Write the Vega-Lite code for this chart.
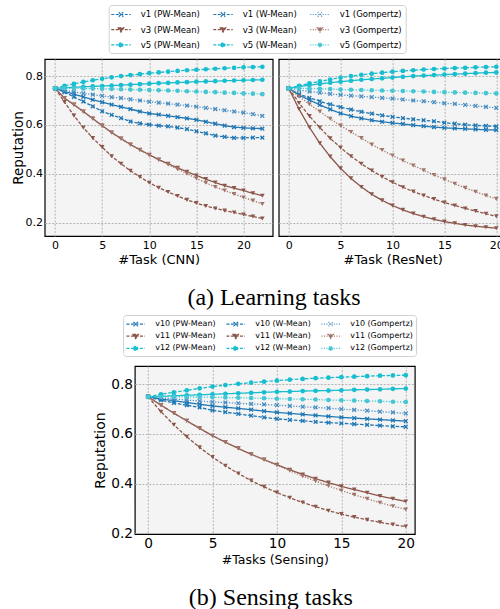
{
"$schema":"https://vega.github.io/schema/vega-lite/v6.json",
"background":"white",
"padding":{"left":10.5,"top":3,"right":0,"bottom":0},
"config":{"font":"DejaVu Sans","view":{"fill":"#f4f4f4","stroke":"#000","strokeWidth":1.2},
"axis":{"labelFont":"DejaVu Sans","titleFont":"DejaVu Sans","labelColor":"#000","titleColor":"#000","titleFontWeight":"normal","ticks":false,"domain":false,"gridColor":"#b4b4b4","gridDash":[2,1.5],"gridWidth":1,"labelFlush":false}},
"datasets":{
"cnn":[
{"s":"v1 (PW-Mean)","t":0,"r":0.750},{"s":"v1 (PW-Mean)","t":1,"r":0.737},{"s":"v1 (PW-Mean)","t":2,"r":0.726},{"s":"v1 (PW-Mean)","t":3,"r":0.715},{"s":"v1 (PW-Mean)","t":4,"r":0.703},{"s":"v1 (PW-Mean)","t":5,"r":0.693},{"s":"v1 (PW-Mean)","t":6,"r":0.683},{"s":"v1 (PW-Mean)","t":7,"r":0.674},{"s":"v1 (PW-Mean)","t":8,"r":0.665},{"s":"v1 (PW-Mean)","t":9,"r":0.655},{"s":"v1 (PW-Mean)","t":10,"r":0.647},{"s":"v1 (PW-Mean)","t":11,"r":0.642},{"s":"v1 (PW-Mean)","t":12,"r":0.637},{"s":"v1 (PW-Mean)","t":13,"r":0.632},{"s":"v1 (PW-Mean)","t":14,"r":0.627},{"s":"v1 (PW-Mean)","t":15,"r":0.621},{"s":"v1 (PW-Mean)","t":16,"r":0.613},{"s":"v1 (PW-Mean)","t":17,"r":0.605},{"s":"v1 (PW-Mean)","t":18,"r":0.597},{"s":"v1 (PW-Mean)","t":19,"r":0.591},{"s":"v1 (PW-Mean)","t":20,"r":0.588},{"s":"v1 (PW-Mean)","t":21,"r":0.586},{"s":"v1 (PW-Mean)","t":22,"r":0.585},
{"s":"v1 (W-Mean)","t":0,"r":0.750},{"s":"v1 (W-Mean)","t":1,"r":0.734},{"s":"v1 (W-Mean)","t":2,"r":0.715},{"s":"v1 (W-Mean)","t":3,"r":0.696},{"s":"v1 (W-Mean)","t":4,"r":0.676},{"s":"v1 (W-Mean)","t":5,"r":0.656},{"s":"v1 (W-Mean)","t":6,"r":0.641},{"s":"v1 (W-Mean)","t":7,"r":0.628},{"s":"v1 (W-Mean)","t":8,"r":0.614},{"s":"v1 (W-Mean)","t":9,"r":0.606},{"s":"v1 (W-Mean)","t":10,"r":0.601},{"s":"v1 (W-Mean)","t":11,"r":0.597},{"s":"v1 (W-Mean)","t":12,"r":0.594},{"s":"v1 (W-Mean)","t":13,"r":0.589},{"s":"v1 (W-Mean)","t":14,"r":0.583},{"s":"v1 (W-Mean)","t":15,"r":0.574},{"s":"v1 (W-Mean)","t":16,"r":0.565},{"s":"v1 (W-Mean)","t":17,"r":0.556},{"s":"v1 (W-Mean)","t":18,"r":0.551},{"s":"v1 (W-Mean)","t":19,"r":0.547},{"s":"v1 (W-Mean)","t":20,"r":0.547},{"s":"v1 (W-Mean)","t":21,"r":0.548},{"s":"v1 (W-Mean)","t":22,"r":0.548},
{"s":"v1 (Gompertz)","t":0,"r":0.750},{"s":"v1 (Gompertz)","t":1,"r":0.742},{"s":"v1 (Gompertz)","t":2,"r":0.735},{"s":"v1 (Gompertz)","t":3,"r":0.729},{"s":"v1 (Gompertz)","t":4,"r":0.724},{"s":"v1 (Gompertz)","t":5,"r":0.719},{"s":"v1 (Gompertz)","t":6,"r":0.714},{"s":"v1 (Gompertz)","t":7,"r":0.710},{"s":"v1 (Gompertz)","t":8,"r":0.705},{"s":"v1 (Gompertz)","t":9,"r":0.700},{"s":"v1 (Gompertz)","t":10,"r":0.695},{"s":"v1 (Gompertz)","t":11,"r":0.691},{"s":"v1 (Gompertz)","t":12,"r":0.687},{"s":"v1 (Gompertz)","t":13,"r":0.683},{"s":"v1 (Gompertz)","t":14,"r":0.679},{"s":"v1 (Gompertz)","t":15,"r":0.675},{"s":"v1 (Gompertz)","t":16,"r":0.670},{"s":"v1 (Gompertz)","t":17,"r":0.665},{"s":"v1 (Gompertz)","t":18,"r":0.660},{"s":"v1 (Gompertz)","t":19,"r":0.655},{"s":"v1 (Gompertz)","t":20,"r":0.650},{"s":"v1 (Gompertz)","t":21,"r":0.644},{"s":"v1 (Gompertz)","t":22,"r":0.637},
{"s":"v3 (PW-Mean)","t":0,"r":0.750},{"s":"v3 (PW-Mean)","t":1,"r":0.710},{"s":"v3 (PW-Mean)","t":2,"r":0.683},{"s":"v3 (PW-Mean)","t":3,"r":0.655},{"s":"v3 (PW-Mean)","t":4,"r":0.626},{"s":"v3 (PW-Mean)","t":5,"r":0.597},{"s":"v3 (PW-Mean)","t":6,"r":0.569},{"s":"v3 (PW-Mean)","t":7,"r":0.544},{"s":"v3 (PW-Mean)","t":8,"r":0.520},{"s":"v3 (PW-Mean)","t":9,"r":0.498},{"s":"v3 (PW-Mean)","t":10,"r":0.478},{"s":"v3 (PW-Mean)","t":11,"r":0.458},{"s":"v3 (PW-Mean)","t":12,"r":0.441},{"s":"v3 (PW-Mean)","t":13,"r":0.424},{"s":"v3 (PW-Mean)","t":14,"r":0.408},{"s":"v3 (PW-Mean)","t":15,"r":0.393},{"s":"v3 (PW-Mean)","t":16,"r":0.378},{"s":"v3 (PW-Mean)","t":17,"r":0.364},{"s":"v3 (PW-Mean)","t":18,"r":0.351},{"s":"v3 (PW-Mean)","t":19,"r":0.341},{"s":"v3 (PW-Mean)","t":20,"r":0.331},{"s":"v3 (PW-Mean)","t":21,"r":0.320},{"s":"v3 (PW-Mean)","t":22,"r":0.310},
{"s":"v3 (W-Mean)","t":0,"r":0.750},{"s":"v3 (W-Mean)","t":1,"r":0.694},{"s":"v3 (W-Mean)","t":2,"r":0.638},{"s":"v3 (W-Mean)","t":3,"r":0.589},{"s":"v3 (W-Mean)","t":4,"r":0.546},{"s":"v3 (W-Mean)","t":5,"r":0.509},{"s":"v3 (W-Mean)","t":6,"r":0.472},{"s":"v3 (W-Mean)","t":7,"r":0.441},{"s":"v3 (W-Mean)","t":8,"r":0.412},{"s":"v3 (W-Mean)","t":9,"r":0.387},{"s":"v3 (W-Mean)","t":10,"r":0.363},{"s":"v3 (W-Mean)","t":11,"r":0.343},{"s":"v3 (W-Mean)","t":12,"r":0.325},{"s":"v3 (W-Mean)","t":13,"r":0.309},{"s":"v3 (W-Mean)","t":14,"r":0.293},{"s":"v3 (W-Mean)","t":15,"r":0.280},{"s":"v3 (W-Mean)","t":16,"r":0.268},{"s":"v3 (W-Mean)","t":17,"r":0.258},{"s":"v3 (W-Mean)","t":18,"r":0.249},{"s":"v3 (W-Mean)","t":19,"r":0.241},{"s":"v3 (W-Mean)","t":20,"r":0.233},{"s":"v3 (W-Mean)","t":21,"r":0.225},{"s":"v3 (W-Mean)","t":22,"r":0.217},
{"s":"v3 (Gompertz)","t":0,"r":0.750},{"s":"v3 (Gompertz)","t":1,"r":0.710},{"s":"v3 (Gompertz)","t":2,"r":0.682},{"s":"v3 (Gompertz)","t":3,"r":0.654},{"s":"v3 (Gompertz)","t":4,"r":0.625},{"s":"v3 (Gompertz)","t":5,"r":0.596},{"s":"v3 (Gompertz)","t":6,"r":0.568},{"s":"v3 (Gompertz)","t":7,"r":0.543},{"s":"v3 (Gompertz)","t":8,"r":0.519},{"s":"v3 (Gompertz)","t":9,"r":0.497},{"s":"v3 (Gompertz)","t":10,"r":0.476},{"s":"v3 (Gompertz)","t":11,"r":0.456},{"s":"v3 (Gompertz)","t":12,"r":0.438},{"s":"v3 (Gompertz)","t":13,"r":0.419},{"s":"v3 (Gompertz)","t":14,"r":0.400},{"s":"v3 (Gompertz)","t":15,"r":0.381},{"s":"v3 (Gompertz)","t":16,"r":0.363},{"s":"v3 (Gompertz)","t":17,"r":0.346},{"s":"v3 (Gompertz)","t":18,"r":0.331},{"s":"v3 (Gompertz)","t":19,"r":0.317},{"s":"v3 (Gompertz)","t":20,"r":0.303},{"s":"v3 (Gompertz)","t":21,"r":0.290},{"s":"v3 (Gompertz)","t":22,"r":0.276},
{"s":"v5 (PW-Mean)","t":0,"r":0.750},{"s":"v5 (PW-Mean)","t":1,"r":0.752},{"s":"v5 (PW-Mean)","t":2,"r":0.754},{"s":"v5 (PW-Mean)","t":3,"r":0.756},{"s":"v5 (PW-Mean)","t":4,"r":0.758},{"s":"v5 (PW-Mean)","t":5,"r":0.759},{"s":"v5 (PW-Mean)","t":6,"r":0.761},{"s":"v5 (PW-Mean)","t":7,"r":0.763},{"s":"v5 (PW-Mean)","t":8,"r":0.765},{"s":"v5 (PW-Mean)","t":9,"r":0.767},{"s":"v5 (PW-Mean)","t":10,"r":0.769},{"s":"v5 (PW-Mean)","t":11,"r":0.771},{"s":"v5 (PW-Mean)","t":12,"r":0.772},{"s":"v5 (PW-Mean)","t":13,"r":0.774},{"s":"v5 (PW-Mean)","t":14,"r":0.775},{"s":"v5 (PW-Mean)","t":15,"r":0.777},{"s":"v5 (PW-Mean)","t":16,"r":0.778},{"s":"v5 (PW-Mean)","t":17,"r":0.779},{"s":"v5 (PW-Mean)","t":18,"r":0.781},{"s":"v5 (PW-Mean)","t":19,"r":0.782},{"s":"v5 (PW-Mean)","t":20,"r":0.783},{"s":"v5 (PW-Mean)","t":21,"r":0.784},{"s":"v5 (PW-Mean)","t":22,"r":0.785},
{"s":"v5 (W-Mean)","t":0,"r":0.750},{"s":"v5 (W-Mean)","t":1,"r":0.760},{"s":"v5 (W-Mean)","t":2,"r":0.768},{"s":"v5 (W-Mean)","t":3,"r":0.776},{"s":"v5 (W-Mean)","t":4,"r":0.783},{"s":"v5 (W-Mean)","t":5,"r":0.789},{"s":"v5 (W-Mean)","t":6,"r":0.795},{"s":"v5 (W-Mean)","t":7,"r":0.800},{"s":"v5 (W-Mean)","t":8,"r":0.804},{"s":"v5 (W-Mean)","t":9,"r":0.808},{"s":"v5 (W-Mean)","t":10,"r":0.812},{"s":"v5 (W-Mean)","t":11,"r":0.815},{"s":"v5 (W-Mean)","t":12,"r":0.818},{"s":"v5 (W-Mean)","t":13,"r":0.821},{"s":"v5 (W-Mean)","t":14,"r":0.824},{"s":"v5 (W-Mean)","t":15,"r":0.826},{"s":"v5 (W-Mean)","t":16,"r":0.828},{"s":"v5 (W-Mean)","t":17,"r":0.830},{"s":"v5 (W-Mean)","t":18,"r":0.832},{"s":"v5 (W-Mean)","t":19,"r":0.834},{"s":"v5 (W-Mean)","t":20,"r":0.836},{"s":"v5 (W-Mean)","t":21,"r":0.837},{"s":"v5 (W-Mean)","t":22,"r":0.838},
{"s":"v5 (Gompertz)","t":0,"r":0.750},{"s":"v5 (Gompertz)","t":1,"r":0.750},{"s":"v5 (Gompertz)","t":2,"r":0.750},{"s":"v5 (Gompertz)","t":3,"r":0.749},{"s":"v5 (Gompertz)","t":4,"r":0.749},{"s":"v5 (Gompertz)","t":5,"r":0.748},{"s":"v5 (Gompertz)","t":6,"r":0.747},{"s":"v5 (Gompertz)","t":7,"r":0.746},{"s":"v5 (Gompertz)","t":8,"r":0.745},{"s":"v5 (Gompertz)","t":9,"r":0.744},{"s":"v5 (Gompertz)","t":10,"r":0.743},{"s":"v5 (Gompertz)","t":11,"r":0.742},{"s":"v5 (Gompertz)","t":12,"r":0.741},{"s":"v5 (Gompertz)","t":13,"r":0.740},{"s":"v5 (Gompertz)","t":14,"r":0.738},{"s":"v5 (Gompertz)","t":15,"r":0.737},{"s":"v5 (Gompertz)","t":16,"r":0.735},{"s":"v5 (Gompertz)","t":17,"r":0.734},{"s":"v5 (Gompertz)","t":18,"r":0.732},{"s":"v5 (Gompertz)","t":19,"r":0.731},{"s":"v5 (Gompertz)","t":20,"r":0.729},{"s":"v5 (Gompertz)","t":21,"r":0.728},{"s":"v5 (Gompertz)","t":22,"r":0.726}
],
"resnet":[
{"s":"v1 (PW-Mean)","t":0,"r":0.750},{"s":"v1 (PW-Mean)","t":1,"r":0.722},{"s":"v1 (PW-Mean)","t":2,"r":0.702},{"s":"v1 (PW-Mean)","t":3,"r":0.682},{"s":"v1 (PW-Mean)","t":4,"r":0.664},{"s":"v1 (PW-Mean)","t":5,"r":0.647},{"s":"v1 (PW-Mean)","t":6,"r":0.636},{"s":"v1 (PW-Mean)","t":7,"r":0.627},{"s":"v1 (PW-Mean)","t":8,"r":0.619},{"s":"v1 (PW-Mean)","t":9,"r":0.613},{"s":"v1 (PW-Mean)","t":10,"r":0.608},{"s":"v1 (PW-Mean)","t":11,"r":0.604},{"s":"v1 (PW-Mean)","t":12,"r":0.599},{"s":"v1 (PW-Mean)","t":13,"r":0.595},{"s":"v1 (PW-Mean)","t":14,"r":0.591},{"s":"v1 (PW-Mean)","t":15,"r":0.588},{"s":"v1 (PW-Mean)","t":16,"r":0.586},{"s":"v1 (PW-Mean)","t":17,"r":0.584},{"s":"v1 (PW-Mean)","t":18,"r":0.582},{"s":"v1 (PW-Mean)","t":19,"r":0.580},{"s":"v1 (PW-Mean)","t":20,"r":0.579},
{"s":"v1 (W-Mean)","t":0,"r":0.750},{"s":"v1 (W-Mean)","t":1,"r":0.726},{"s":"v1 (W-Mean)","t":2,"r":0.711},{"s":"v1 (W-Mean)","t":3,"r":0.697},{"s":"v1 (W-Mean)","t":4,"r":0.684},{"s":"v1 (W-Mean)","t":5,"r":0.673},{"s":"v1 (W-Mean)","t":6,"r":0.663},{"s":"v1 (W-Mean)","t":7,"r":0.654},{"s":"v1 (W-Mean)","t":8,"r":0.646},{"s":"v1 (W-Mean)","t":9,"r":0.639},{"s":"v1 (W-Mean)","t":10,"r":0.633},{"s":"v1 (W-Mean)","t":11,"r":0.628},{"s":"v1 (W-Mean)","t":12,"r":0.623},{"s":"v1 (W-Mean)","t":13,"r":0.619},{"s":"v1 (W-Mean)","t":14,"r":0.615},{"s":"v1 (W-Mean)","t":15,"r":0.609},{"s":"v1 (W-Mean)","t":16,"r":0.605},{"s":"v1 (W-Mean)","t":17,"r":0.601},{"s":"v1 (W-Mean)","t":18,"r":0.598},{"s":"v1 (W-Mean)","t":19,"r":0.596},{"s":"v1 (W-Mean)","t":20,"r":0.594},
{"s":"v1 (Gompertz)","t":0,"r":0.750},{"s":"v1 (Gompertz)","t":1,"r":0.743},{"s":"v1 (Gompertz)","t":2,"r":0.737},{"s":"v1 (Gompertz)","t":3,"r":0.732},{"s":"v1 (Gompertz)","t":4,"r":0.727},{"s":"v1 (Gompertz)","t":5,"r":0.723},{"s":"v1 (Gompertz)","t":6,"r":0.720},{"s":"v1 (Gompertz)","t":7,"r":0.717},{"s":"v1 (Gompertz)","t":8,"r":0.714},{"s":"v1 (Gompertz)","t":9,"r":0.711},{"s":"v1 (Gompertz)","t":10,"r":0.708},{"s":"v1 (Gompertz)","t":11,"r":0.704},{"s":"v1 (Gompertz)","t":12,"r":0.700},{"s":"v1 (Gompertz)","t":13,"r":0.697},{"s":"v1 (Gompertz)","t":14,"r":0.693},{"s":"v1 (Gompertz)","t":15,"r":0.689},{"s":"v1 (Gompertz)","t":16,"r":0.686},{"s":"v1 (Gompertz)","t":17,"r":0.682},{"s":"v1 (Gompertz)","t":18,"r":0.678},{"s":"v1 (Gompertz)","t":19,"r":0.674},{"s":"v1 (Gompertz)","t":20,"r":0.670},
{"s":"v3 (PW-Mean)","t":0,"r":0.750},{"s":"v3 (PW-Mean)","t":1,"r":0.665},{"s":"v3 (PW-Mean)","t":2,"r":0.590},{"s":"v3 (PW-Mean)","t":3,"r":0.525},{"s":"v3 (PW-Mean)","t":4,"r":0.470},{"s":"v3 (PW-Mean)","t":5,"r":0.422},{"s":"v3 (PW-Mean)","t":6,"r":0.381},{"s":"v3 (PW-Mean)","t":7,"r":0.346},{"s":"v3 (PW-Mean)","t":8,"r":0.316},{"s":"v3 (PW-Mean)","t":9,"r":0.291},{"s":"v3 (PW-Mean)","t":10,"r":0.270},{"s":"v3 (PW-Mean)","t":11,"r":0.252},{"s":"v3 (PW-Mean)","t":12,"r":0.237},{"s":"v3 (PW-Mean)","t":13,"r":0.224},{"s":"v3 (PW-Mean)","t":14,"r":0.213},{"s":"v3 (PW-Mean)","t":15,"r":0.204},{"s":"v3 (PW-Mean)","t":16,"r":0.197},{"s":"v3 (PW-Mean)","t":17,"r":0.190},{"s":"v3 (PW-Mean)","t":18,"r":0.185},{"s":"v3 (PW-Mean)","t":19,"r":0.181},{"s":"v3 (PW-Mean)","t":20,"r":0.177},
{"s":"v3 (W-Mean)","t":0,"r":0.750},{"s":"v3 (W-Mean)","t":1,"r":0.690},{"s":"v3 (W-Mean)","t":2,"r":0.636},{"s":"v3 (W-Mean)","t":3,"r":0.589},{"s":"v3 (W-Mean)","t":4,"r":0.545},{"s":"v3 (W-Mean)","t":5,"r":0.507},{"s":"v3 (W-Mean)","t":6,"r":0.472},{"s":"v3 (W-Mean)","t":7,"r":0.441},{"s":"v3 (W-Mean)","t":8,"r":0.413},{"s":"v3 (W-Mean)","t":9,"r":0.388},{"s":"v3 (W-Mean)","t":10,"r":0.365},{"s":"v3 (W-Mean)","t":11,"r":0.345},{"s":"v3 (W-Mean)","t":12,"r":0.327},{"s":"v3 (W-Mean)","t":13,"r":0.311},{"s":"v3 (W-Mean)","t":14,"r":0.296},{"s":"v3 (W-Mean)","t":15,"r":0.282},{"s":"v3 (W-Mean)","t":16,"r":0.270},{"s":"v3 (W-Mean)","t":17,"r":0.258},{"s":"v3 (W-Mean)","t":18,"r":0.247},{"s":"v3 (W-Mean)","t":19,"r":0.236},{"s":"v3 (W-Mean)","t":20,"r":0.226},
{"s":"v3 (Gompertz)","t":0,"r":0.750},{"s":"v3 (Gompertz)","t":1,"r":0.716},{"s":"v3 (Gompertz)","t":2,"r":0.685},{"s":"v3 (Gompertz)","t":3,"r":0.655},{"s":"v3 (Gompertz)","t":4,"r":0.625},{"s":"v3 (Gompertz)","t":5,"r":0.597},{"s":"v3 (Gompertz)","t":6,"r":0.571},{"s":"v3 (Gompertz)","t":7,"r":0.546},{"s":"v3 (Gompertz)","t":8,"r":0.520},{"s":"v3 (Gompertz)","t":9,"r":0.497},{"s":"v3 (Gompertz)","t":10,"r":0.475},{"s":"v3 (Gompertz)","t":11,"r":0.454},{"s":"v3 (Gompertz)","t":12,"r":0.434},{"s":"v3 (Gompertz)","t":13,"r":0.414},{"s":"v3 (Gompertz)","t":14,"r":0.395},{"s":"v3 (Gompertz)","t":15,"r":0.377},{"s":"v3 (Gompertz)","t":16,"r":0.359},{"s":"v3 (Gompertz)","t":17,"r":0.342},{"s":"v3 (Gompertz)","t":18,"r":0.326},{"s":"v3 (Gompertz)","t":19,"r":0.311},{"s":"v3 (Gompertz)","t":20,"r":0.297},
{"s":"v5 (PW-Mean)","t":0,"r":0.750},{"s":"v5 (PW-Mean)","t":1,"r":0.757},{"s":"v5 (PW-Mean)","t":2,"r":0.763},{"s":"v5 (PW-Mean)","t":3,"r":0.768},{"s":"v5 (PW-Mean)","t":4,"r":0.773},{"s":"v5 (PW-Mean)","t":5,"r":0.777},{"s":"v5 (PW-Mean)","t":6,"r":0.781},{"s":"v5 (PW-Mean)","t":7,"r":0.785},{"s":"v5 (PW-Mean)","t":8,"r":0.788},{"s":"v5 (PW-Mean)","t":9,"r":0.791},{"s":"v5 (PW-Mean)","t":10,"r":0.794},{"s":"v5 (PW-Mean)","t":11,"r":0.797},{"s":"v5 (PW-Mean)","t":12,"r":0.800},{"s":"v5 (PW-Mean)","t":13,"r":0.802},{"s":"v5 (PW-Mean)","t":14,"r":0.804},{"s":"v5 (PW-Mean)","t":15,"r":0.806},{"s":"v5 (PW-Mean)","t":16,"r":0.808},{"s":"v5 (PW-Mean)","t":17,"r":0.810},{"s":"v5 (PW-Mean)","t":18,"r":0.812},{"s":"v5 (PW-Mean)","t":19,"r":0.814},{"s":"v5 (PW-Mean)","t":20,"r":0.815},
{"s":"v5 (W-Mean)","t":0,"r":0.750},{"s":"v5 (W-Mean)","t":1,"r":0.760},{"s":"v5 (W-Mean)","t":2,"r":0.770},{"s":"v5 (W-Mean)","t":3,"r":0.778},{"s":"v5 (W-Mean)","t":4,"r":0.786},{"s":"v5 (W-Mean)","t":5,"r":0.794},{"s":"v5 (W-Mean)","t":6,"r":0.800},{"s":"v5 (W-Mean)","t":7,"r":0.805},{"s":"v5 (W-Mean)","t":8,"r":0.810},{"s":"v5 (W-Mean)","t":9,"r":0.814},{"s":"v5 (W-Mean)","t":10,"r":0.818},{"s":"v5 (W-Mean)","t":11,"r":0.821},{"s":"v5 (W-Mean)","t":12,"r":0.824},{"s":"v5 (W-Mean)","t":13,"r":0.827},{"s":"v5 (W-Mean)","t":14,"r":0.829},{"s":"v5 (W-Mean)","t":15,"r":0.831},{"s":"v5 (W-Mean)","t":16,"r":0.833},{"s":"v5 (W-Mean)","t":17,"r":0.834},{"s":"v5 (W-Mean)","t":18,"r":0.836},{"s":"v5 (W-Mean)","t":19,"r":0.837},{"s":"v5 (W-Mean)","t":20,"r":0.838},
{"s":"v5 (Gompertz)","t":0,"r":0.750},{"s":"v5 (Gompertz)","t":1,"r":0.750},{"s":"v5 (Gompertz)","t":2,"r":0.749},{"s":"v5 (Gompertz)","t":3,"r":0.748},{"s":"v5 (Gompertz)","t":4,"r":0.747},{"s":"v5 (Gompertz)","t":5,"r":0.745},{"s":"v5 (Gompertz)","t":6,"r":0.744},{"s":"v5 (Gompertz)","t":7,"r":0.743},{"s":"v5 (Gompertz)","t":8,"r":0.742},{"s":"v5 (Gompertz)","t":9,"r":0.741},{"s":"v5 (Gompertz)","t":10,"r":0.740},{"s":"v5 (Gompertz)","t":11,"r":0.739},{"s":"v5 (Gompertz)","t":12,"r":0.738},{"s":"v5 (Gompertz)","t":13,"r":0.737},{"s":"v5 (Gompertz)","t":14,"r":0.735},{"s":"v5 (Gompertz)","t":15,"r":0.734},{"s":"v5 (Gompertz)","t":16,"r":0.733},{"s":"v5 (Gompertz)","t":17,"r":0.732},{"s":"v5 (Gompertz)","t":18,"r":0.731},{"s":"v5 (Gompertz)","t":19,"r":0.730},{"s":"v5 (Gompertz)","t":20,"r":0.729}
],
"sensing":[
{"s":"v10 (PW-Mean)","t":0,"r":0.750},{"s":"v10 (PW-Mean)","t":1,"r":0.741},{"s":"v10 (PW-Mean)","t":2,"r":0.734},{"s":"v10 (PW-Mean)","t":3,"r":0.727},{"s":"v10 (PW-Mean)","t":4,"r":0.720},{"s":"v10 (PW-Mean)","t":5,"r":0.713},{"s":"v10 (PW-Mean)","t":6,"r":0.708},{"s":"v10 (PW-Mean)","t":7,"r":0.703},{"s":"v10 (PW-Mean)","t":8,"r":0.698},{"s":"v10 (PW-Mean)","t":9,"r":0.692},{"s":"v10 (PW-Mean)","t":10,"r":0.687},{"s":"v10 (PW-Mean)","t":11,"r":0.683},{"s":"v10 (PW-Mean)","t":12,"r":0.679},{"s":"v10 (PW-Mean)","t":13,"r":0.675},{"s":"v10 (PW-Mean)","t":14,"r":0.671},{"s":"v10 (PW-Mean)","t":15,"r":0.667},{"s":"v10 (PW-Mean)","t":16,"r":0.664},{"s":"v10 (PW-Mean)","t":17,"r":0.661},{"s":"v10 (PW-Mean)","t":18,"r":0.658},{"s":"v10 (PW-Mean)","t":19,"r":0.655},{"s":"v10 (PW-Mean)","t":20,"r":0.652},
{"s":"v10 (W-Mean)","t":0,"r":0.750},{"s":"v10 (W-Mean)","t":1,"r":0.736},{"s":"v10 (W-Mean)","t":2,"r":0.725},{"s":"v10 (W-Mean)","t":3,"r":0.716},{"s":"v10 (W-Mean)","t":4,"r":0.707},{"s":"v10 (W-Mean)","t":5,"r":0.695},{"s":"v10 (W-Mean)","t":6,"r":0.688},{"s":"v10 (W-Mean)","t":7,"r":0.681},{"s":"v10 (W-Mean)","t":8,"r":0.674},{"s":"v10 (W-Mean)","t":9,"r":0.667},{"s":"v10 (W-Mean)","t":10,"r":0.661},{"s":"v10 (W-Mean)","t":11,"r":0.657},{"s":"v10 (W-Mean)","t":12,"r":0.653},{"s":"v10 (W-Mean)","t":13,"r":0.649},{"s":"v10 (W-Mean)","t":14,"r":0.646},{"s":"v10 (W-Mean)","t":15,"r":0.643},{"s":"v10 (W-Mean)","t":16,"r":0.640},{"s":"v10 (W-Mean)","t":17,"r":0.637},{"s":"v10 (W-Mean)","t":18,"r":0.634},{"s":"v10 (W-Mean)","t":19,"r":0.631},{"s":"v10 (W-Mean)","t":20,"r":0.629},
{"s":"v10 (Gompertz)","t":0,"r":0.750},{"s":"v10 (Gompertz)","t":1,"r":0.745},{"s":"v10 (Gompertz)","t":2,"r":0.741},{"s":"v10 (Gompertz)","t":3,"r":0.737},{"s":"v10 (Gompertz)","t":4,"r":0.733},{"s":"v10 (Gompertz)","t":5,"r":0.729},{"s":"v10 (Gompertz)","t":6,"r":0.727},{"s":"v10 (Gompertz)","t":7,"r":0.724},{"s":"v10 (Gompertz)","t":8,"r":0.721},{"s":"v10 (Gompertz)","t":9,"r":0.719},{"s":"v10 (Gompertz)","t":10,"r":0.716},{"s":"v10 (Gompertz)","t":11,"r":0.713},{"s":"v10 (Gompertz)","t":12,"r":0.710},{"s":"v10 (Gompertz)","t":13,"r":0.707},{"s":"v10 (Gompertz)","t":14,"r":0.704},{"s":"v10 (Gompertz)","t":15,"r":0.700},{"s":"v10 (Gompertz)","t":16,"r":0.697},{"s":"v10 (Gompertz)","t":17,"r":0.694},{"s":"v10 (Gompertz)","t":18,"r":0.690},{"s":"v10 (Gompertz)","t":19,"r":0.687},{"s":"v10 (Gompertz)","t":20,"r":0.683},
{"s":"v11 (PW-Mean)","t":0,"r":0.750},{"s":"v11 (PW-Mean)","t":1,"r":0.716},{"s":"v11 (PW-Mean)","t":2,"r":0.684},{"s":"v11 (PW-Mean)","t":3,"r":0.653},{"s":"v11 (PW-Mean)","t":4,"r":0.623},{"s":"v11 (PW-Mean)","t":5,"r":0.593},{"s":"v11 (PW-Mean)","t":6,"r":0.567},{"s":"v11 (PW-Mean)","t":7,"r":0.542},{"s":"v11 (PW-Mean)","t":8,"r":0.518},{"s":"v11 (PW-Mean)","t":9,"r":0.497},{"s":"v11 (PW-Mean)","t":10,"r":0.476},{"s":"v11 (PW-Mean)","t":11,"r":0.456},{"s":"v11 (PW-Mean)","t":12,"r":0.437},{"s":"v11 (PW-Mean)","t":13,"r":0.420},{"s":"v11 (PW-Mean)","t":14,"r":0.404},{"s":"v11 (PW-Mean)","t":15,"r":0.389},{"s":"v11 (PW-Mean)","t":16,"r":0.376},{"s":"v11 (PW-Mean)","t":17,"r":0.363},{"s":"v11 (PW-Mean)","t":18,"r":0.350},{"s":"v11 (PW-Mean)","t":19,"r":0.339},{"s":"v11 (PW-Mean)","t":20,"r":0.328},
{"s":"v11 (W-Mean)","t":0,"r":0.750},{"s":"v11 (W-Mean)","t":1,"r":0.690},{"s":"v11 (W-Mean)","t":2,"r":0.637},{"s":"v11 (W-Mean)","t":3,"r":0.589},{"s":"v11 (W-Mean)","t":4,"r":0.546},{"s":"v11 (W-Mean)","t":5,"r":0.507},{"s":"v11 (W-Mean)","t":6,"r":0.472},{"s":"v11 (W-Mean)","t":7,"r":0.441},{"s":"v11 (W-Mean)","t":8,"r":0.412},{"s":"v11 (W-Mean)","t":9,"r":0.387},{"s":"v11 (W-Mean)","t":10,"r":0.364},{"s":"v11 (W-Mean)","t":11,"r":0.343},{"s":"v11 (W-Mean)","t":12,"r":0.324},{"s":"v11 (W-Mean)","t":13,"r":0.307},{"s":"v11 (W-Mean)","t":14,"r":0.291},{"s":"v11 (W-Mean)","t":15,"r":0.277},{"s":"v11 (W-Mean)","t":16,"r":0.265},{"s":"v11 (W-Mean)","t":17,"r":0.254},{"s":"v11 (W-Mean)","t":18,"r":0.244},{"s":"v11 (W-Mean)","t":19,"r":0.235},{"s":"v11 (W-Mean)","t":20,"r":0.227},
{"s":"v11 (Gompertz)","t":0,"r":0.750},{"s":"v11 (Gompertz)","t":1,"r":0.716},{"s":"v11 (Gompertz)","t":2,"r":0.684},{"s":"v11 (Gompertz)","t":3,"r":0.653},{"s":"v11 (Gompertz)","t":4,"r":0.623},{"s":"v11 (Gompertz)","t":5,"r":0.593},{"s":"v11 (Gompertz)","t":6,"r":0.567},{"s":"v11 (Gompertz)","t":7,"r":0.542},{"s":"v11 (Gompertz)","t":8,"r":0.518},{"s":"v11 (Gompertz)","t":9,"r":0.496},{"s":"v11 (Gompertz)","t":10,"r":0.474},{"s":"v11 (Gompertz)","t":11,"r":0.452},{"s":"v11 (Gompertz)","t":12,"r":0.430},{"s":"v11 (Gompertz)","t":13,"r":0.410},{"s":"v11 (Gompertz)","t":14,"r":0.391},{"s":"v11 (Gompertz)","t":15,"r":0.372},{"s":"v11 (Gompertz)","t":16,"r":0.355},{"s":"v11 (Gompertz)","t":17,"r":0.339},{"s":"v11 (Gompertz)","t":18,"r":0.323},{"s":"v11 (Gompertz)","t":19,"r":0.309},{"s":"v11 (Gompertz)","t":20,"r":0.296},
{"s":"v12 (PW-Mean)","t":0,"r":0.750},{"s":"v12 (PW-Mean)","t":1,"r":0.752},{"s":"v12 (PW-Mean)","t":2,"r":0.754},{"s":"v12 (PW-Mean)","t":3,"r":0.756},{"s":"v12 (PW-Mean)","t":4,"r":0.758},{"s":"v12 (PW-Mean)","t":5,"r":0.760},{"s":"v12 (PW-Mean)","t":6,"r":0.762},{"s":"v12 (PW-Mean)","t":7,"r":0.764},{"s":"v12 (PW-Mean)","t":8,"r":0.766},{"s":"v12 (PW-Mean)","t":9,"r":0.768},{"s":"v12 (PW-Mean)","t":10,"r":0.770},{"s":"v12 (PW-Mean)","t":11,"r":0.771},{"s":"v12 (PW-Mean)","t":12,"r":0.773},{"s":"v12 (PW-Mean)","t":13,"r":0.774},{"s":"v12 (PW-Mean)","t":14,"r":0.775},{"s":"v12 (PW-Mean)","t":15,"r":0.776},{"s":"v12 (PW-Mean)","t":16,"r":0.778},{"s":"v12 (PW-Mean)","t":17,"r":0.779},{"s":"v12 (PW-Mean)","t":18,"r":0.780},{"s":"v12 (PW-Mean)","t":19,"r":0.782},{"s":"v12 (PW-Mean)","t":20,"r":0.783},
{"s":"v12 (W-Mean)","t":0,"r":0.750},{"s":"v12 (W-Mean)","t":1,"r":0.760},{"s":"v12 (W-Mean)","t":2,"r":0.768},{"s":"v12 (W-Mean)","t":3,"r":0.776},{"s":"v12 (W-Mean)","t":4,"r":0.784},{"s":"v12 (W-Mean)","t":5,"r":0.791},{"s":"v12 (W-Mean)","t":6,"r":0.797},{"s":"v12 (W-Mean)","t":7,"r":0.802},{"s":"v12 (W-Mean)","t":8,"r":0.807},{"s":"v12 (W-Mean)","t":9,"r":0.811},{"s":"v12 (W-Mean)","t":10,"r":0.815},{"s":"v12 (W-Mean)","t":11,"r":0.819},{"s":"v12 (W-Mean)","t":12,"r":0.822},{"s":"v12 (W-Mean)","t":13,"r":0.825},{"s":"v12 (W-Mean)","t":14,"r":0.827},{"s":"v12 (W-Mean)","t":15,"r":0.829},{"s":"v12 (W-Mean)","t":16,"r":0.831},{"s":"v12 (W-Mean)","t":17,"r":0.833},{"s":"v12 (W-Mean)","t":18,"r":0.835},{"s":"v12 (W-Mean)","t":19,"r":0.836},{"s":"v12 (W-Mean)","t":20,"r":0.837},
{"s":"v12 (Gompertz)","t":0,"r":0.750},{"s":"v12 (Gompertz)","t":1,"r":0.750},{"s":"v12 (Gompertz)","t":2,"r":0.750},{"s":"v12 (Gompertz)","t":3,"r":0.749},{"s":"v12 (Gompertz)","t":4,"r":0.749},{"s":"v12 (Gompertz)","t":5,"r":0.748},{"s":"v12 (Gompertz)","t":6,"r":0.747},{"s":"v12 (Gompertz)","t":7,"r":0.746},{"s":"v12 (Gompertz)","t":8,"r":0.745},{"s":"v12 (Gompertz)","t":9,"r":0.744},{"s":"v12 (Gompertz)","t":10,"r":0.742},{"s":"v12 (Gompertz)","t":11,"r":0.741},{"s":"v12 (Gompertz)","t":12,"r":0.740},{"s":"v12 (Gompertz)","t":13,"r":0.739},{"s":"v12 (Gompertz)","t":14,"r":0.737},{"s":"v12 (Gompertz)","t":15,"r":0.736},{"s":"v12 (Gompertz)","t":16,"r":0.735},{"s":"v12 (Gompertz)","t":17,"r":0.733},{"s":"v12 (Gompertz)","t":18,"r":0.732},{"s":"v12 (Gompertz)","t":19,"r":0.730},{"s":"v12 (Gompertz)","t":20,"r":0.729}
]
},
"vconcat":[
{
"hconcat":[
{
"width":228,"height":177,
"data":{"name":"cnn"},
"encoding":{
"x":{"field":"t","type":"quantitative","scale":{"domain":[-1.1,23.1],"nice":false,"zero":false},"axis":{"values":[0,5,10,15,20],"title":"#Task (CNN)","labelFontSize":11,"labelPadding":3.5,"titleFontSize":13,"titlePadding":2.5}},
"y":{"field":"r","type":"quantitative","scale":{"domain":[0.145,0.87],"nice":false,"zero":false},"axis":{"values":[0.2,0.4,0.6,0.8],"format":".1f","title":"Reputation","labelFontSize":11,"labelPadding":2.3,"titleFontSize":13.5,"titlePadding":-0.5}},
"color":{"field":"s","type":"nominal","scale":{"domain":["v1 (PW-Mean)","v3 (PW-Mean)","v5 (PW-Mean)","v1 (W-Mean)","v3 (W-Mean)","v5 (W-Mean)","v1 (Gompertz)","v3 (Gompertz)","v5 (Gompertz)"],"range":["#1f77b4","#8c564b","#17becf","#1f77b4","#8c564b","#17becf","#4a8fc4","#a07468","#45c6d4"]},
"legend":{"orient":"none","legendX":64,"legendY":-54,"columns":3,"title":null,"symbolSize":100,"symbolOffset":3,"labelOffset":13.7,"labelFontSize":8.5,"labelFont":"DejaVu Sans","labelColor":"#000","labelLimit":200,"columnPadding":10,"rowPadding":4.3,"padding":3.3,"strokeColor":"#d0d0d0","fillColor":"white","cornerRadius":3,
"encode":{"symbols":{"update":{
"shape":{"signal":"indexof(datum.value,'v3 ')>=0 ? 'M-1.95,0L1.95,0M-0.55,-0.35L0.55,-0.35L0,0.5Z' : indexof(datum.value,'v5 ')>=0 ? 'M-1.95,0L1.95,0M-0.4,0A0.4,0.4,0,1,0,0.4,0A0.4,0.4,0,1,0,-0.4,0Z' : 'M-1.95,0L1.95,0M-0.45,-0.45L0.45,0.45M-0.45,0.45L0.45,-0.45'"},
"stroke":{"signal":"indexof(datum.value,'v3 ')>=0 ? (indexof(datum.value,'Gompertz')>=0 ? '#a07468' : '#8c564b') : indexof(datum.value,'v5 ')>=0 ? (indexof(datum.value,'Gompertz')>=0 ? '#45c6d4' : '#17becf') : (indexof(datum.value,'Gompertz')>=0 ? '#4a8fc4' : '#1f77b4')"},
"fill":{"signal":"indexof(datum.value,'v3 ')>=0 ? (indexof(datum.value,'Gompertz')>=0 ? '#a07468' : '#8c564b') : indexof(datum.value,'v5 ')>=0 ? (indexof(datum.value,'Gompertz')>=0 ? '#45c6d4' : '#17becf') : (indexof(datum.value,'Gompertz')>=0 ? '#4a8fc4' : '#1f77b4')"},
"strokeDash":{"signal":"indexof(datum.value,'W-Mean')>=0 ? [3,1.5] : indexof(datum.value,'Gompertz')>=0 ? [1,1.5] : [1,0]"},
"strokeWidth":{"value":1.2},
"opacity":{"value":1}
}}}}}
},
"layer":[
{"mark":{"type":"line","strokeWidth":1.3,"clip":true},"encoding":{"strokeDash":{"field":"s","type":"nominal","scale":{"domain":["v1 (PW-Mean)","v1 (W-Mean)","v1 (Gompertz)","v3 (PW-Mean)","v3 (W-Mean)","v3 (Gompertz)","v5 (PW-Mean)","v5 (W-Mean)","v5 (Gompertz)"],"range":[[1,0],[3.5,1.6],[1.2,1.6],[1,0],[3.5,1.6],[1.2,1.6],[1,0],[3.5,1.6],[1.2,1.6]]},"legend":null}}},
{"mark":{"type":"point","filled":true,"opacity":1,"clip":true},"encoding":{
"shape":{"field":"s","type":"nominal","scale":{"domain":["v1 (PW-Mean)","v1 (W-Mean)","v1 (Gompertz)","v3 (PW-Mean)","v3 (W-Mean)","v3 (Gompertz)","v5 (PW-Mean)","v5 (W-Mean)","v5 (Gompertz)"],"range":["M-1,-0.6L-0.6,-1L0,-0.4L0.6,-1L1,-0.6L0.4,0L1,0.6L0.6,1L0,0.4L-0.6,1L-1,0.6L-0.4,0Z","M-1,-0.6L-0.6,-1L0,-0.4L0.6,-1L1,-0.6L0.4,0L1,0.6L0.6,1L0,0.4L-0.6,1L-1,0.6L-0.4,0Z","M-1,-0.6L-0.6,-1L0,-0.4L0.6,-1L1,-0.6L0.4,0L1,0.6L0.6,1L0,0.4L-0.6,1L-1,0.6L-0.4,0Z","triangle-down","triangle-down","triangle-down","circle","circle","circle"]},"legend":null},
"size":{"field":"s","type":"nominal","scale":{"domain":["v1 (PW-Mean)","v1 (W-Mean)","v1 (Gompertz)","v3 (PW-Mean)","v3 (W-Mean)","v3 (Gompertz)","v5 (PW-Mean)","v5 (W-Mean)","v5 (Gompertz)"],"range":[22,22,22,26,26,26,12,12,12]},"legend":null}}}
]
},
{
"width":228,"height":177,
"data":{"name":"resnet"},
"encoding":{
"x":{"field":"t","type":"quantitative","scale":{"domain":[-0.96,21],"nice":false,"zero":false},"axis":{"values":[0,5,10,15,20],"title":"#Task (ResNet)","labelFontSize":11,"labelPadding":3.5,"titleFontSize":13,"titlePadding":2.5}},
"y":{"field":"r","type":"quantitative","scale":{"domain":[0.145,0.87],"nice":false,"zero":false},"axis":{"values":[0.2,0.4,0.6,0.8],"labels":false,"title":null}},
"color":{"field":"s","type":"nominal","scale":{"domain":["v1 (PW-Mean)","v1 (W-Mean)","v1 (Gompertz)","v3 (PW-Mean)","v3 (W-Mean)","v3 (Gompertz)","v5 (PW-Mean)","v5 (W-Mean)","v5 (Gompertz)"],"range":["#1f77b4","#1f77b4","#4a8fc4","#8c564b","#8c564b","#a07468","#17becf","#17becf","#45c6d4"]},"legend":null}
},
"layer":[
{"mark":{"type":"line","strokeWidth":1.3,"clip":true},"encoding":{"strokeDash":{"field":"s","type":"nominal","scale":{"domain":["v1 (PW-Mean)","v1 (W-Mean)","v1 (Gompertz)","v3 (PW-Mean)","v3 (W-Mean)","v3 (Gompertz)","v5 (PW-Mean)","v5 (W-Mean)","v5 (Gompertz)"],"range":[[1,0],[3.5,1.6],[1.2,1.6],[1,0],[3.5,1.6],[1.2,1.6],[1,0],[3.5,1.6],[1.2,1.6]]},"legend":null}}},
{"mark":{"type":"point","filled":true,"opacity":1,"clip":true},"encoding":{
"shape":{"field":"s","type":"nominal","scale":{"domain":["v1 (PW-Mean)","v1 (W-Mean)","v1 (Gompertz)","v3 (PW-Mean)","v3 (W-Mean)","v3 (Gompertz)","v5 (PW-Mean)","v5 (W-Mean)","v5 (Gompertz)"],"range":["M-1,-0.6L-0.6,-1L0,-0.4L0.6,-1L1,-0.6L0.4,0L1,0.6L0.6,1L0,0.4L-0.6,1L-1,0.6L-0.4,0Z","M-1,-0.6L-0.6,-1L0,-0.4L0.6,-1L1,-0.6L0.4,0L1,0.6L0.6,1L0,0.4L-0.6,1L-1,0.6L-0.4,0Z","M-1,-0.6L-0.6,-1L0,-0.4L0.6,-1L1,-0.6L0.4,0L1,0.6L0.6,1L0,0.4L-0.6,1L-1,0.6L-0.4,0Z","triangle-down","triangle-down","triangle-down","circle","circle","circle"]},"legend":null},
"size":{"field":"s","type":"nominal","scale":{"domain":["v1 (PW-Mean)","v1 (W-Mean)","v1 (Gompertz)","v3 (PW-Mean)","v3 (W-Mean)","v3 (Gompertz)","v5 (PW-Mean)","v5 (W-Mean)","v5 (Gompertz)"],"range":[22,22,22,26,26,26,12,12,12]},"legend":null}}}
]
}
],
"spacing":6,
"bounds":"flush",
"resolve":{"scale":{"color":"independent","strokeDash":"independent","shape":"independent","size":"independent"}},
"title":{"text":"(a) Learning tasks","orient":"bottom","anchor":"middle","font":"Liberation Serif","fontSize":24,"fontWeight":"normal","color":"#000","offset":19.5,"dx":15}
},
{
"width":280,"height":168,
"data":{"name":"sensing"},
"title":{"text":"(b) Sensing tasks","orient":"bottom","anchor":"middle","font":"Liberation Serif","fontSize":24,"fontWeight":"normal","color":"#000","offset":19.5,"dx":-4},
"encoding":{
"x":{"field":"t","type":"quantitative","scale":{"domain":[-1.03,20.7],"nice":false,"zero":false},"axis":{"values":[0,5,10,15,20],"title":"#Tasks (Sensing)","labelFontSize":13.7,"labelPadding":2.5,"titleFontSize":12.5,"titlePadding":3.5}},
"y":{"field":"r","type":"quantitative","scale":{"domain":[0.197,0.874],"nice":false,"zero":false},"axis":{"values":[0.2,0.4,0.6,0.8],"format":".1f","title":"Reputation","labelFontSize":13.7,"labelPadding":2.3,"titleFontSize":14,"titlePadding":3.5}},
"color":{"field":"s","type":"nominal","scale":{"domain":["v10 (PW-Mean)","v11 (PW-Mean)","v12 (PW-Mean)","v10 (W-Mean)","v11 (W-Mean)","v12 (W-Mean)","v10 (Gompertz)","v11 (Gompertz)","v12 (Gompertz)"],"range":["#1f77b4","#8c564b","#17becf","#1f77b4","#8c564b","#17becf","#4a8fc4","#a07468","#45c6d4"]},
"legend":{"orient":"none","legendX":-11.7,"legendY":-51,"columns":3,"title":null,"symbolSize":100,"symbolOffset":3.6,"labelOffset":13.5,"labelFontSize":7.95,"labelFont":"DejaVu Sans","labelColor":"#000","labelLimit":200,"columnPadding":7,"rowPadding":1.2,"padding":3,"strokeColor":"#d0d0d0","fillColor":"white","cornerRadius":3,
"encode":{"symbols":{"update":{
"shape":{"signal":"indexof(datum.value,'v11')>=0 ? 'M-1.85,0L1.85,0M-0.55,-0.35L0.55,-0.35L0,0.5Z' : indexof(datum.value,'v12')>=0 ? 'M-1.85,0L1.85,0M-0.4,0A0.4,0.4,0,1,0,0.4,0A0.4,0.4,0,1,0,-0.4,0Z' : 'M-1.85,0L1.85,0M-0.45,-0.45L0.45,0.45M-0.45,0.45L0.45,-0.45'"},
"stroke":{"signal":"indexof(datum.value,'v11')>=0 ? (indexof(datum.value,'Gompertz')>=0 ? '#a07468' : '#8c564b') : indexof(datum.value,'v12')>=0 ? (indexof(datum.value,'Gompertz')>=0 ? '#45c6d4' : '#17becf') : (indexof(datum.value,'Gompertz')>=0 ? '#4a8fc4' : '#1f77b4')"},
"fill":{"signal":"indexof(datum.value,'v11')>=0 ? (indexof(datum.value,'Gompertz')>=0 ? '#a07468' : '#8c564b') : indexof(datum.value,'v12')>=0 ? (indexof(datum.value,'Gompertz')>=0 ? '#45c6d4' : '#17becf') : (indexof(datum.value,'Gompertz')>=0 ? '#4a8fc4' : '#1f77b4')"},
"strokeDash":{"signal":"indexof(datum.value,'W-Mean')>=0 ? [3,1.5] : indexof(datum.value,'Gompertz')>=0 ? [1,1.5] : [1,0]"},
"strokeWidth":{"value":1.2},
"opacity":{"value":1}
}}}}}
},
"layer":[
{"mark":{"type":"line","strokeWidth":1.3,"clip":true},"encoding":{"strokeDash":{"field":"s","type":"nominal","scale":{"domain":["v10 (PW-Mean)","v10 (W-Mean)","v10 (Gompertz)","v11 (PW-Mean)","v11 (W-Mean)","v11 (Gompertz)","v12 (PW-Mean)","v12 (W-Mean)","v12 (Gompertz)"],"range":[[1,0],[3.5,1.6],[1.2,1.6],[1,0],[3.5,1.6],[1.2,1.6],[1,0],[3.5,1.6],[1.2,1.6]]},"legend":null}}},
{"mark":{"type":"point","filled":true,"opacity":1,"clip":true},"encoding":{
"shape":{"field":"s","type":"nominal","scale":{"domain":["v10 (PW-Mean)","v10 (W-Mean)","v10 (Gompertz)","v11 (PW-Mean)","v11 (W-Mean)","v11 (Gompertz)","v12 (PW-Mean)","v12 (W-Mean)","v12 (Gompertz)"],"range":["M-1,-0.6L-0.6,-1L0,-0.4L0.6,-1L1,-0.6L0.4,0L1,0.6L0.6,1L0,0.4L-0.6,1L-1,0.6L-0.4,0Z","M-1,-0.6L-0.6,-1L0,-0.4L0.6,-1L1,-0.6L0.4,0L1,0.6L0.6,1L0,0.4L-0.6,1L-1,0.6L-0.4,0Z","M-1,-0.6L-0.6,-1L0,-0.4L0.6,-1L1,-0.6L0.4,0L1,0.6L0.6,1L0,0.4L-0.6,1L-1,0.6L-0.4,0Z","triangle-down","triangle-down","triangle-down","circle","circle","circle"]},"legend":null},
"size":{"field":"s","type":"nominal","scale":{"domain":["v10 (PW-Mean)","v10 (W-Mean)","v10 (Gompertz)","v11 (PW-Mean)","v11 (W-Mean)","v11 (Gompertz)","v12 (PW-Mean)","v12 (W-Mean)","v12 (Gompertz)"],"range":[22,22,22,26,26,26,12,12,12]},"legend":null}}}
]
}
],
"spacing":2,
"center":true,
"resolve":{"scale":{"color":"independent","strokeDash":"independent","shape":"independent","size":"independent"}}
}
